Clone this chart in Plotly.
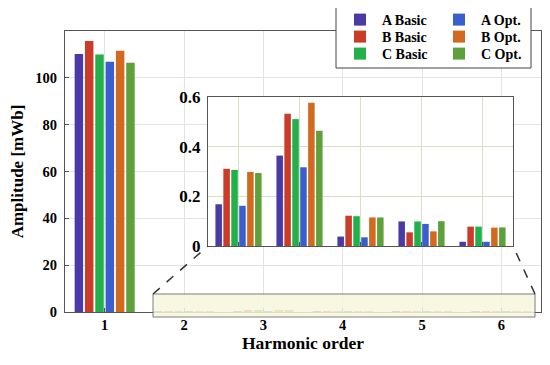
import plotly.graph_objects as go

harmonics = [1, 2, 3, 4, 5, 6]
inset_harmonics = [2, 3, 4, 5, 6]
series_names = ["A Basic", "B Basic", "C Basic", "A Opt.", "B Opt.", "C Opt."]
a_basic = [110.2, 0.168, 0.364, 0.038, 0.099, 0.017]
b_basic = [115.7, 0.311, 0.533, 0.122, 0.055, 0.078]
c_basic = [110.0, 0.306, 0.511, 0.120, 0.099, 0.078]
a_opt = [106.9, 0.162, 0.317, 0.035, 0.089, 0.017]
b_opt = [111.6, 0.298, 0.577, 0.115, 0.059, 0.074]
c_opt = [106.4, 0.294, 0.464, 0.115, 0.100, 0.075]
y_ticks = [0, 20, 40, 60, 80, 100]
inset_ticks = [0, 0.2, 0.4, 0.6]

series_values = [a_basic, b_basic, c_basic, a_opt, b_opt, c_opt]
colors = ["#4a3aa6", "#cc3a28", "#22b04a", "#3a5fcc", "#d2691e", "#5ea03c"]
legend_ids = ["legend", "legend2", "legend3", "legend", "legend2", "legend3"]

FONT = "Liberation Serif, Times New Roman, serif"
fig = go.Figure()
for name, vals, col, lg in zip(series_names, series_values, colors, legend_ids):
    fig.add_trace(go.Bar(x=harmonics, y=vals, name=f"<b>{name}</b>", marker_color=col,
                         marker_line_width=0, legend=lg, xaxis="x", yaxis="y"))
for name, vals, col in zip(series_names, series_values, colors):
    fig.add_trace(go.Bar(x=inset_harmonics, y=vals[1:], name=name, marker_color=col,
                         marker_line_width=0, showlegend=False, xaxis="x2", yaxis="y2"))

# page shows the figure offset by the default 8px body margin
OFF = 8
W, H = 550, 365
PL, PR, PT, PB = 65, 541, 31, 312          # plot area in screen pixels
L, T = PL - OFF, PT - OFF
pw, ph = PR - PL, PB - PT
R, B = W - L - pw, H - T - ph

def px(x):
    return (x - PL) / pw

def py(y):
    return (PB - y) / ph

inset_x = [px(208), px(513)]
inset_y = [py(246), py(97)]

tickfont = dict(family=FONT, size=14.5, color="black")
legfont = dict(family=FONT, size=14, color="black")

def row_legend(ycenter):
    return dict(orientation="h", x=px(338), y=py(ycenter), xanchor="left", yanchor="middle",
                bgcolor="rgba(0,0,0,0)", borderwidth=0, itemwidth=34,
                entrywidth=50, entrywidthmode="pixels", font=legfont)

fig.update_layout(
    width=W, height=H,
    margin=dict(l=L, r=R, t=T, b=B, autoexpand=False),
    paper_bgcolor="white", plot_bgcolor="white",
    barmode="group", bargap=0.22, bargroupgap=0.18,
    font=dict(family=FONT, color="black"),
    xaxis=dict(range=[0.5, 6.5], tickvals=harmonics, ticktext=[f"<b>{h}</b>" for h in harmonics],
               showgrid=True, gridcolor="#e3e3e3",
               showline=True, linecolor="#555", mirror=True, ticks="inside", ticklen=4,
               tickcolor="#555", tickfont=tickfont, zeroline=False,
               title=dict(text="<b>Harmonic order</b>", font=dict(family=FONT, size=17.5), standoff=2)),
    yaxis=dict(range=[0, 120], tickvals=y_ticks, ticktext=[f"<b>{v}</b>" for v in y_ticks],
               showgrid=True, gridcolor="#e3e3e3",
               showline=True, linecolor="#555", mirror=True, ticks="inside", ticklen=4,
               tickcolor="#555", tickfont=tickfont, zeroline=False,
               ticklabelstandoff=4,
               title=dict(text="<b>Amplitude [mWb]</b>", font=dict(family=FONT, size=17), standoff=8)),
    xaxis2=dict(domain=inset_x, anchor="y2", range=[1.5, 6.5], tickvals=inset_harmonics,
                showticklabels=False, showgrid=True, gridcolor="#dcdcc8",
                showline=True, linecolor="#555", mirror=True, ticks="inside", ticklen=4,
                tickcolor="#555", zeroline=False),
    yaxis2=dict(domain=inset_y, anchor="x2", range=[0, 0.6], tickvals=inset_ticks,
                ticktext=[f"<b>{v:g}</b>" for v in inset_ticks],
                showgrid=True, gridcolor="#dcdcc8", showline=True, linecolor="#555",
                mirror=True, ticks="", tickfont=dict(family=FONT, size=17, color="black"),
                ticklabelstandoff=3, zeroline=False),
    legend=row_legend(20),
    legend2=row_legend(37),
    legend3=row_legend(54),
)

# legend frame
fig.add_shape(type="rect", xref="paper", yref="paper", x0=px(336), x1=px(531),
              y0=py(68), y1=py(5), fillcolor="white", line=dict(color="#444", width=1),
              layer="above")
# inset background
fig.add_shape(type="rect", xref="paper", yref="paper", x0=inset_x[0], x1=inset_x[1],
              y0=inset_y[0], y1=inset_y[1], fillcolor="#f7f6dc", line_width=0, layer="below")
# zoom region on main axis
fig.add_shape(type="rect", xref="paper", yref="paper", x0=px(153), x1=px(535),
              y0=py(317), y1=py(294), fillcolor="#f7f6dc", opacity=0.85,
              line=dict(color="#666", width=1))
# connector dashed lines
fig.add_shape(type="line", xref="paper", yref="paper", x0=px(153), y0=py(294),
              x1=inset_x[0], y1=inset_y[0], line=dict(color="#333", width=1.5, dash="dash"))
fig.add_shape(type="line", xref="paper", yref="paper", x0=px(535), y0=py(294),
              x1=inset_x[1], y1=inset_y[0], line=dict(color="#333", width=1.5, dash="dash"))

fig.write_html("out.html")
